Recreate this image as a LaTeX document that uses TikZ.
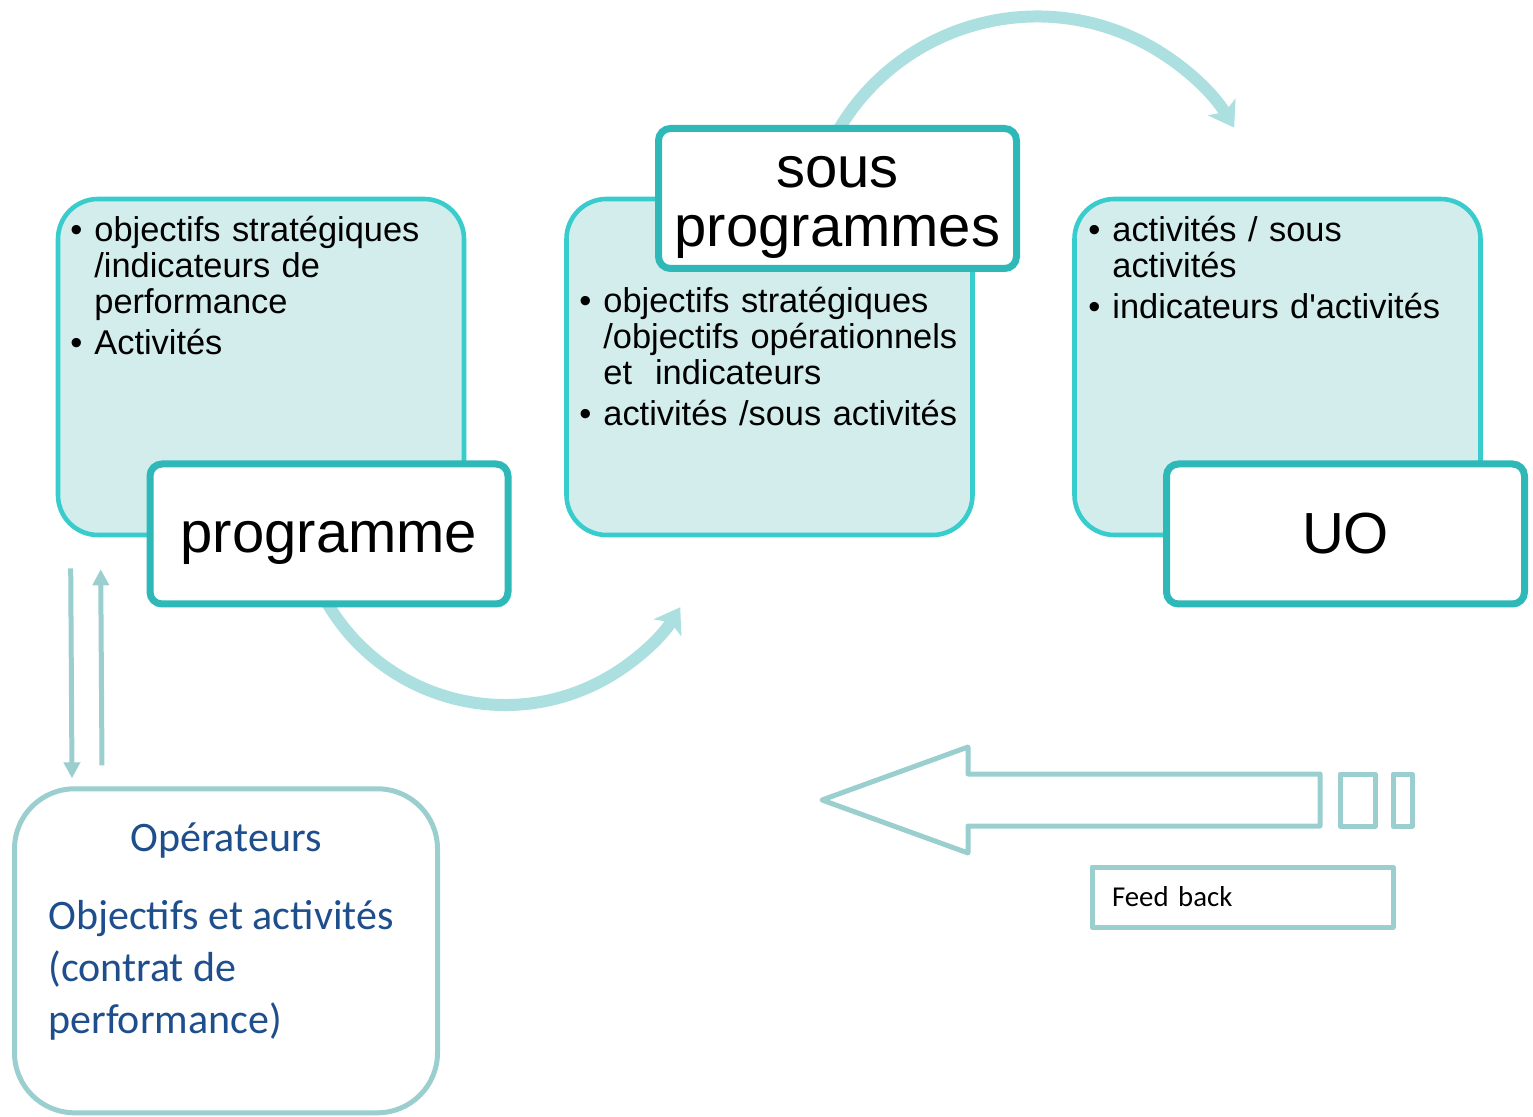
\documentclass[tikz,border=0pt]{standalone}
\usepackage{fontspec}
\setmainfont{Liberation Sans}
\newfontfamily\calib{Carlito}
\usetikzlibrary{arrows.meta, positioning, calc, shadows}
\definecolor{boxline}{RGB}{56,204,204}
\definecolor{boxfill}{RGB}{211,237,237}
\definecolor{labline}{RGB}{46,184,184}
\definecolor{arcline}{RGB}{172,224,224}
\definecolor{outline}{RGB}{155,206,206}
\definecolor{opblue}{RGB}{31,78,140}
\newcommand{\bstrut}{\rule[-4pt]{0pt}{13pt}}
\newcommand{\bitem}[1]{\par\noindent\makebox[12pt][l]{\textbullet}\parbox[t]{188pt}{\raggedright\bstrut #1\bstrut}}
\newcommand{\labstrut}{\rule{0pt}{25pt}}

\begin{document}
\begin{tikzpicture}[x=0.5pt, y=-0.5pt,
    bigbox/.style={draw=boxline, fill=boxfill, line width=2.3pt, rounded corners=20pt,
      minimum width=203pt, minimum height=168pt},
    labbox/.style={draw=labline, fill=white, line width=3.5pt, rounded corners=6pt,
      minimum width=179pt, minimum height=70pt, align=center,
      font=\fontsize{29}{29.5}\selectfont,
      drop shadow={opacity=0.25, shadow xshift=1pt, shadow yshift=-1.5pt}},
    bullets/.style={anchor=north west, inner sep=0pt, text width=200pt, align=left,
      font=\fontsize{17.2}{17.8}\selectfont},
    arcarrow/.style={arcline, line width=6pt, -{Stealth[length=12pt, width=16pt, inset=3pt]}},
    outl/.style={draw=outline, line width=2.5pt, line join=round},
    vline/.style={outline, line width=2.5pt, -{Triangle[length=8pt, width=8pt]}}
  ]
  \useasboundingbox (0,0) rectangle (1533,1117);

  % curved arrows, under the boxes
  \coordinate (ctrA) at (505,499);
  \coordinate (ctrB) at (1037,247);
  \draw[arcarrow] ($(ctrA)+(150:206)$) arc[start angle=150, end angle=31.7, radius=206];
  \draw[arcarrow] ($(ctrB)+(208:230.5)$) arc[start angle=208, end angle=328.8, radius=230.5];

  \node[bigbox] (boxA) at (261,367) {};
  \node[bigbox] (boxB) at (769.5,367) {};
  \node[bigbox] (boxC) at (1277.5,367) {};

  \node[bullets] (txtA) at (70,200) {\setlength{\parskip}{3pt}%
    \bitem{objectifs stratégiques\\/indicateurs de\\performance}
    \bitem{Activités}};
  \node[bullets] (txtB) at (579,271) {\setlength{\parskip}{3pt}%
    \bitem{objectifs stratégiques\\/objectifs opérationnels\\et~ indicateurs}
    \bitem{activités /sous activités}};
  \node[bullets] (txtC) at (1088,200) {\setlength{\parskip}{3pt}%
    \bitem{activités / sous\\activités}
    \bitem{indicateurs d\textquotesingle activités}};

  \node[labbox] (prog) at (329,534) {\labstrut programme};
  \node[labbox] (sprog) at (837.5,198.5) {\labstrut sous\\programmes};
  \node[labbox] (uo) at (1345.5,534) {UO};

  % operateurs
  \node[outl, fill=white, rounded corners=30pt, minimum width=211.5pt, minimum height=162pt] (oper) at (226,950.8) {};
  \node[font=\calib\fontsize{21}{26}\selectfont, text=opblue] (opttl) at (226,841) {Opérateurs};
  \node[font=\calib\fontsize{21}{26}\selectfont, text=opblue, anchor=north west, inner sep=0pt, align=left] (optxt) at (48,900)
    {Objectifs et activités\\(contrat de\\performance)};

  \draw[vline] ($(boxA.south west)+(15,31)$) -- ($(oper.north west)+(60,-8)$);
  \draw[vline] ($(oper.north west)+(90,-21)$) -- ($(boxA.south west)+(45,32)$);

  % feed back
  \draw[outl] (822,800) -- (968,747) -- (968,774) -- (1320,774) -- (1320,826) -- (968,826) -- (968,853) -- cycle;
  \draw[outl] (1340,774) rectangle (1375,826);
  \draw[outl] (1393,774) rectangle (1412,826);
  \node[outl, minimum height=30pt, text width=130.5pt, inner xsep=10pt, align=left,
    font=\calib\fontsize{14.4}{16}\selectfont] (fb) at (1242.5,897) {Feed back};
\end{tikzpicture}
\end{document}
